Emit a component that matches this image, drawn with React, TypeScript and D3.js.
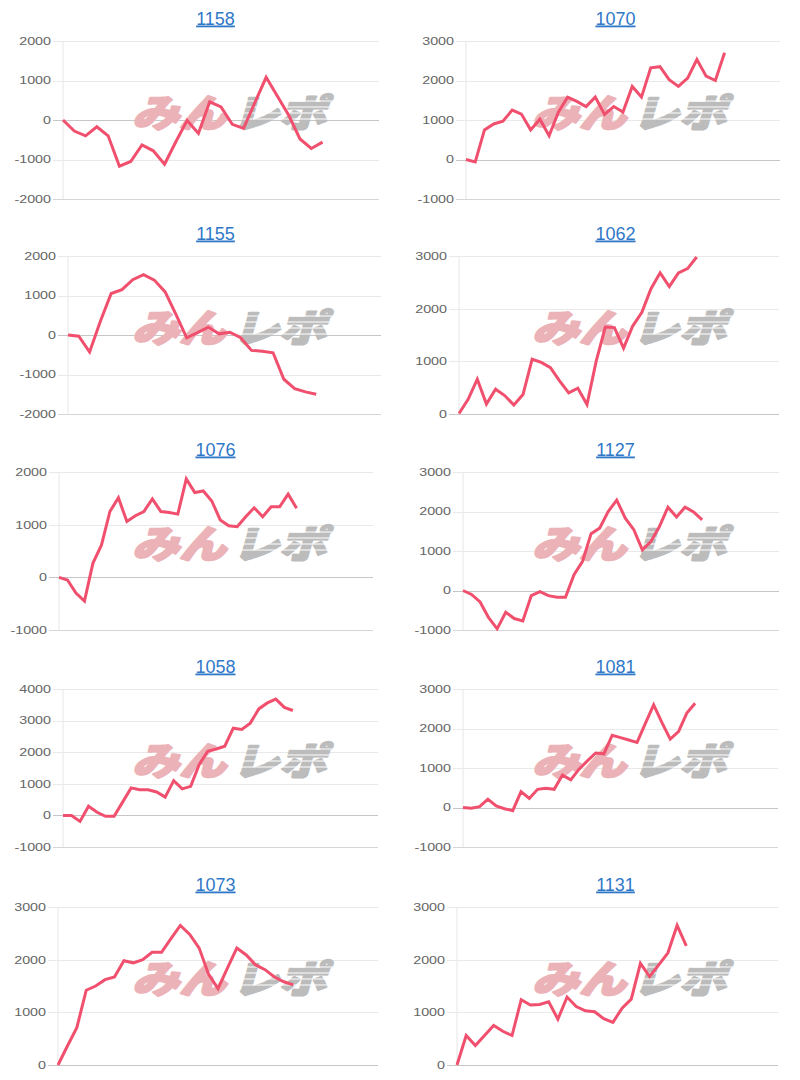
import React from "react";
import * as d3 from "d3";

// ---- data ----
const titles = ["1158", "1070", "1155", "1062", "1076", "1127", "1058", "1081", "1073", "1131"];

const s1158 = [0, -280, -400, -170, -400, -1170, -1050, -630, -780, -1120, -550, -10, -340, 460, 330, -110, -210, 440, 1080, 600, 120, -480, -720, -560];
const s1070 = [0, -60, 750, 900, 970, 1250, 1150, 750, 1020, 600, 1200, 1580, 1470, 1340, 1580, 1140, 1340, 1200, 1850, 1580, 2320, 2350, 2020, 1850, 2060, 2530, 2110, 2000, 2700];
const s1155 = [0, -30, -430, 350, 1050, 1150, 1400, 1530, 1390, 1090, 520, -70, 60, 200, 30, 70, -70, -390, -410, -450, -1120, -1360, -1440, -1500];
const s1062 = [10, 280, 660, 190, 470, 350, 170, 370, 1040, 980, 880, 630, 400, 490, 180, 1000, 1650, 1640, 1250, 1670, 1930, 2380, 2680, 2420, 2680, 2760, 2980];
const s1076 = [0, -50, -300, -450, 270, 610, 1250, 1510, 1060, 1170, 1250, 1490, 1250, 1230, 1200, 1870, 1610, 1640, 1450, 1090, 980, 960, 1150, 1320, 1150, 1340, 1340, 1580, 1310];
const s1127 = [0, -100, -290, -690, -970, -550, -710, -770, -130, -30, -130, -170, -170, 400, 740, 1440, 1580, 2000, 2290, 1830, 1540, 1030, 1240, 1620, 2110, 1860, 2110, 1990, 1790];
const s1058 = [0, 0, -190, 290, 100, -30, -30, 420, 870, 810, 810, 740, 580, 1100, 840, 920, 1610, 2030, 2100, 2190, 2760, 2720, 2920, 3370, 3560, 3680, 3420, 3320];
const s1081 = [0, -20, 20, 210, 40, -30, -80, 400, 230, 460, 490, 460, 820, 700, 970, 1180, 1380, 1360, 1830, 1770, 1710, 1650, 2130, 2600, 2150, 1730, 1920, 2390, 2640];
const s1073 = [0, 360, 710, 1420, 1500, 1620, 1670, 1980, 1940, 2000, 2140, 2140, 2400, 2650, 2480, 2220, 1720, 1450, 1840, 2220, 2090, 1900, 1810, 1670, 1580, 1520];
const s1131 = [0, 560, 370, 560, 750, 640, 560, 1240, 1140, 1150, 1200, 870, 1290, 1110, 1030, 1010, 880, 810, 1080, 1250, 1930, 1680, 1900, 2130, 2650, 2260];

const seriesList = [s1158, s1070, s1155, s1062, s1076, s1127, s1058, s1081, s1073, s1131];

const yMins = [-2000, -1000, -2000, 0, -1000, -1000, -1000, -1000, 0, 0];
const yMaxs = [2000, 3000, 2000, 3000, 2000, 3000, 4000, 3000, 3000, 3000];
const dayCounts = [28, 34, 29, 35, 37, 37, 37, 38, 34, 35];
const yTickStep = 1000;

// ---- layout ----
const W = 800;
const H = 1080;
const COL_X = [0, 400];
const ROW_TOPS = [0, 215, 431, 648, 866];
const PLOT_TOP_OFFSET = 41;
const PLOT_HEIGHT = 158;
const PLOT_LEFTS = [63, 66, 68, 59, 59, 63, 63, 63, 58, 57];
const PLOT_RIGHTS = [379, 380, 381, 379, 373, 379, 378, 378, 378, 378];

const LINE_COLOR = "#f0506e";
const TITLE_COLOR = "#2f78c8";
const FONT = "'Liberation Sans', Arial, Helvetica, sans-serif";
const STRIPES = [-9, -3, 3, 9];

function Watermark({ cx, cy }: { cx: number; cy: number }) {
  const common = {
    y: 0,
    dominantBaseline: "central" as const,
    fontFamily: "'Noto Sans CJK JP', sans-serif",
    fontWeight: 900,
    fontSize: 38,
    textLength: 94,
    lengthAdjust: "spacingAndGlyphs" as const,
    strokeWidth: 2.2,
    strokeLinejoin: "round" as const,
  };
  return (
    <g transform={`translate(${cx},${cy}) skewX(-16)`}>
      <text x={-97} {...common} fill="#ebb3b8" stroke="#ebb3b8">
        みん
      </text>
      <text x={3} {...common} fill="#bcbcbc" stroke="#bcbcbc">
        レポ
      </text>
      {STRIPES.map((s) => (
        <line key={s} x1={2} x2={100} y1={s} y2={s} stroke="#fff" strokeWidth={1.2} />
      ))}
    </g>
  );
}

function Panel({ i }: { i: number }) {
  const col = i % 2;
  const row = Math.floor(i / 2);
  const px = COL_X[col];
  const top = ROW_TOPS[row];
  const x0 = px + PLOT_LEFTS[i];
  const x1 = px + PLOT_RIGHTS[i];
  const yTop = top + PLOT_TOP_OFFSET;
  const yBot = yTop + PLOT_HEIGHT;
  const data = seriesList[i];

  const x = d3.scaleLinear().domain([0, dayCounts[i]]).range([x0, x1]);
  const y = d3.scaleLinear().domain([yMins[i], yMaxs[i]]).range([yBot, yTop]);
  const ticks = d3.range(yMins[i], yMaxs[i] + 1, yTickStep);
  const line = d3
    .line<number>()
    .x((_, k) => x(k))
    .y((v) => y(v));

  return (
    <g>
      <text
        x={px + 215.5}
        y={top + 24.5}
        textAnchor="middle"
        fontFamily={FONT}
        fontSize={18}
        fill={TITLE_COLOR}
        style={{ textDecoration: "underline" }}
      >
        {titles[i]}
      </text>
      <line x1={x0} x2={x0} y1={yTop} y2={yBot} stroke="#e6e6e6" strokeWidth={1} />
      {ticks.map((t) => (
        <g key={t}>
          <line
            x1={x0 - 10}
            x2={x1}
            y1={Math.round(y(t)) + 0.5}
            y2={Math.round(y(t)) + 0.5}
            stroke={t === 0 ? "#c6c6c6" : t === yMins[i] ? "#d6d6d6" : "#e9e9e9"}
            strokeWidth={1}
          />
          <text
            transform={`translate(${x0 - 12},${y(t)}) scale(1.3,1)`}
            textAnchor="end"
            dominantBaseline="central"
            fontFamily={FONT}
            fontSize={11}
            fill="#666"
          >
            {t}
          </text>
        </g>
      ))}
      <Watermark cx={px + 234} cy={top + 110} />
      <path
        d={line(data) || ""}
        fill="none"
        stroke={LINE_COLOR}
        strokeWidth={3}
        strokeLinejoin="miter"
        strokeMiterlimit={3}
      />
    </g>
  );
}

export default function App() {
  return (
    <svg
      width={W}
      height={H}
      style={{ position: "absolute", left: 0, top: 0, background: "#fff" }}
    >
      <rect x={0} y={0} width={W} height={H} fill="#fff" />
      {seriesList.map((_, i) => (
        <Panel key={i} i={i} />
      ))}
    </svg>
  );
}
